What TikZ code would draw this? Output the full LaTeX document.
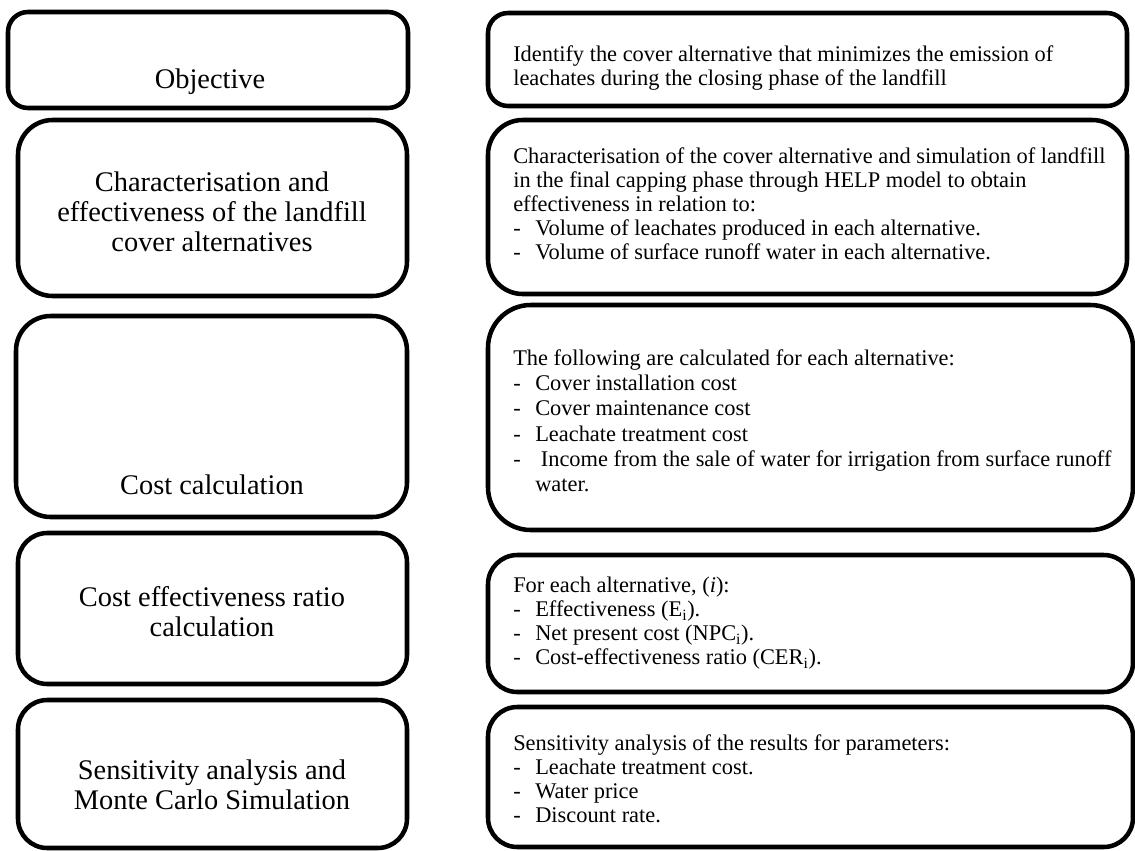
\documentclass[tikz,border=0pt]{standalone}
\usepackage{fontspec}
\setmainfont{Liberation Serif}
\newcommand{\dashitem}[1]{\makebox[16.5pt][l]{-}#1}

\begin{document}
\begin{tikzpicture}[x=0.75pt,y=0.75pt,yscale=-1,xscale=1]
\tikzset{stage/.style 2 args={draw, line width=3.4pt, rounded corners=22pt, inner sep=0pt, minimum width=#1*0.75pt, minimum height=#2*0.75pt},
  lefttext/.style={align=center, inner sep=0.75pt, font=\fontsize{21.3}{22.5}\selectfont},
  righttext/.style={align=left, anchor=north west, inner sep=0pt, font=\fontsize{16.8}{18}\selectfont}}
\useasboundingbox (0,0) rectangle (1135,850);

%Left column boxes
\node [stage={400}{96}, rounded corners=15pt] (obj) at (208,60) {};
\node [stage={389}{176}, rounded corners=26pt] (charact) at (212.5,208) {};
\node [stage={391}{201}, rounded corners=26pt] (cost) at (211.5,416.5) {};
\node [stage={389}{151}] (cer) at (212.5,608.5) {};
\node [stage={389}{148}] (sens) at (212.5,774) {};

%Right column boxes
\node [stage={639}{93}, rounded corners=15pt] (objdesc) at (807.5,59.5) {};
\node [stage={639}{174}, rounded corners=26pt] (charactdesc) at (807.5,207) {};
\node [stage={645}{225}, rounded corners=32pt] (costdesc) at (810.5,417.5) {};
\node [stage={645}{137}] (cerdesc) at (810.5,623.5) {};
\node [stage={645}{140}] (sensdesc) at (810.5,777) {};

% Text Node
\node [lefttext] (objtxt) at (210,82) {Objective};
% Text Node
\node [lefttext] (characttxt) at (212,212) {Characterisation and\\effectiveness of the landfill\\cover alternatives};
% Text Node
\node [lefttext] (costtxt) at (212,485) {Cost calculation};
% Text Node
\node [lefttext] (certxt) at (212,611.5) {Cost effectiveness ratio\\calculation};
% Text Node
\node [lefttext] (senstxt) at (212,785) {Sensitivity analysis and\\Monte Carlo Simulation};

% Text Node
\node [righttext] (objdesctxt) at (513,45) {Identify the cover alternative that minimizes the emission of\\leachates during the closing phase of the landfill};
% Text Node
\node [righttext] (charactdesctxt) at (513,147) {Characterisation of the cover alternative and simulation of landfill\\in the final capping phase through HELP model to obtain\\effectiveness in relation to:\\\dashitem{Volume of leachates produced in each alternative.}\\\dashitem{Volume of surface runoff water in each alternative.}};
% Text Node
\node [righttext, font=\fontsize{16.8}{19}\selectfont] (costdesctxt) at (513,349) {The following are calculated for each alternative:\\\dashitem{Cover installation cost}\\\dashitem{Cover maintenance cost}\\\dashitem{Leachate treatment cost}\\\dashitem{\ Income from the sale of water for irrigation from surface runoff}\\\hspace*{16.5pt}water.};
% Text Node
\node [righttext] (cerdesctxt) at (513,577) {For each alternative, (\textit{i}):\\\dashitem{Effectiveness (E\textsubscript{i}).}\\\dashitem{Net present cost (NPC\textsubscript{i}).}\\\dashitem{Cost-effectiveness ratio (CER\textsubscript{i}).}};
% Text Node
\node [righttext] (sensdesctxt) at (513,734) {Sensitivity analysis of the results for parameters:\\\dashitem{Leachate treatment cost.}\\\dashitem{Water price}\\\dashitem{Discount rate.}};

\end{tikzpicture}
\end{document}
